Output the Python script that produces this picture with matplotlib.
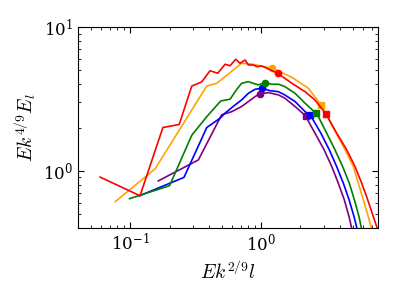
import matplotlib
matplotlib.use("Agg")
import matplotlib.pyplot as plt
from matplotlib.ticker import NullFormatter

plt.rcParams["mathtext.fontset"] = "cm"
plt.rcParams["font.family"] = "serif"
plt.rcParams["font.serif"] = ["DejaVu Serif"]

# curves: x = E k^{2/9} l, y = E k^{4/9} E_l
red_x = [0.059, 0.119, 0.178, 0.237, 0.296, 0.352, 0.408, 0.467, 0.531, 0.580,
         0.641, 0.691, 0.755, 0.80, 0.873, 0.927, 1.01, 1.105, 1.34, 1.72,
         2.17, 2.58, 3.13, 3.78, 4.51, 5.22, 5.87, 6.52, 7.2, 7.78]
red_y = [0.904, 0.67, 2.0, 2.10, 3.89, 4.15, 4.97, 4.77, 5.51, 5.38,
         5.97, 5.6, 5.9, 5.45, 5.45, 5.3, 5.36, 5.17, 4.77, 4.06,
         3.55, 3.11, 2.49, 1.83, 1.40, 1.07, 0.82, 0.63, 0.48, 0.39]

orange_x = [0.077, 0.155, 0.385, 0.459, 0.71, 0.85, 1.01, 1.22, 1.72, 2.30,
            2.87, 3.21, 3.74, 4.38, 5.07, 5.53, 6.04, 6.59, 7.0]
orange_y = [0.61, 1.03, 3.89, 4.06, 5.6, 5.53, 5.36, 5.17, 4.47, 3.75,
            2.87, 2.38, 1.83, 1.40, 1.07, 0.82, 0.63, 0.48, 0.39]

green_x = [0.099, 0.2, 0.296, 0.385, 0.492, 0.58, 0.653, 0.71, 0.80, 0.873,
           0.954, 1.07, 1.21, 1.36, 1.52, 1.82, 2.17, 2.62, 2.74, 3.17,
           3.67, 4.20, 4.72, 5.16, 5.6, 5.87]
green_y = [0.64, 0.787, 1.77, 2.38, 3.06, 3.15, 3.69, 4.06, 4.17, 4.06,
           3.96, 4.11, 4.0, 4.0, 3.85, 3.46, 2.95, 2.52, 2.38, 1.83,
           1.40, 1.07, 0.82, 0.63, 0.48, 0.39]

blue_x = [0.118, 0.258, 0.385, 0.486, 0.531, 0.633, 0.71, 0.80, 0.90, 1.02,
          1.17, 1.36, 1.52, 1.82, 2.17, 2.37, 2.62, 2.86, 3.32, 3.78,
          4.25, 4.70, 5.13, 5.43]
blue_y = [0.67, 0.90, 2.0, 2.32, 2.52, 2.87, 3.11, 3.46, 3.69, 3.75,
          3.61, 3.55, 3.37, 3.03, 2.58, 2.45, 2.10, 1.83, 1.40, 1.07,
          0.82, 0.63, 0.48, 0.39]

purple_x = [0.164, 0.332, 0.50, 0.598, 0.71, 0.80, 0.90, 0.975, 1.14, 1.36,
            1.52, 1.82, 2.19, 2.37, 2.58, 3.03, 3.47, 3.89, 4.32, 4.70,
            4.95]
purple_y = [0.85, 1.19, 2.45, 2.58, 2.80, 3.03, 3.28, 3.43, 3.5, 3.37,
            3.2, 2.80, 2.41, 2.10, 1.83, 1.40, 1.07, 0.82, 0.63, 0.48,
            0.39]

# marker positions (circle, square) per curve
circle_x = {"red": 1.34, "orange": 1.22, "green": 1.07, "blue": 1.02, "purple": 0.975}
circle_y = {"red": 4.77, "orange": 5.17, "green": 4.11, "blue": 3.75, "purple": 3.43}
square_x = {"red": 3.12, "orange": 2.87, "green": 2.62, "blue": 2.37, "purple": 2.19}
square_y = {"red": 2.49, "orange": 2.87, "green": 2.52, "blue": 2.45, "purple": 2.41}

curves = [
    ("purple", purple_x, purple_y),
    ("blue", blue_x, blue_y),
    ("green", green_x, green_y),
    ("orange", orange_x, orange_y),
    ("red", red_x, red_y),
]


def main():
    fig = plt.figure(figsize=(3.99, 2.99), dpi=100)
    ax = fig.add_axes([0.1955, 0.2375, 0.7515, 0.672])

    for color, xs, ys in curves:
        ax.plot(xs, ys, color=color, lw=1.2)
        ax.plot(circle_x[color], circle_y[color], "o", color=color, ms=4.5)
        ax.plot(square_x[color], square_y[color], "s", color=color, ms=4.5)

    ax.set_xscale("log")
    ax.set_yscale("log")
    ax.set_xlim(0.040, 7.8)
    ax.set_ylim(0.40, 10)

    ax.tick_params(which="both", direction="in", top=True, right=True, labelsize=12)
    ax.tick_params(which="major", length=4)
    ax.tick_params(which="minor", length=2)
    ax.yaxis.set_minor_formatter(NullFormatter())
    ax.xaxis.set_minor_formatter(NullFormatter())

    ax.set_xlabel(r"$Ek^{2/9}l$", fontsize=14)
    ax.set_ylabel(r"$Ek^{4/9}E_l$", fontsize=14)

    fig.savefig("out.png", dpi=100)


if __name__ == "__main__":
    main()
